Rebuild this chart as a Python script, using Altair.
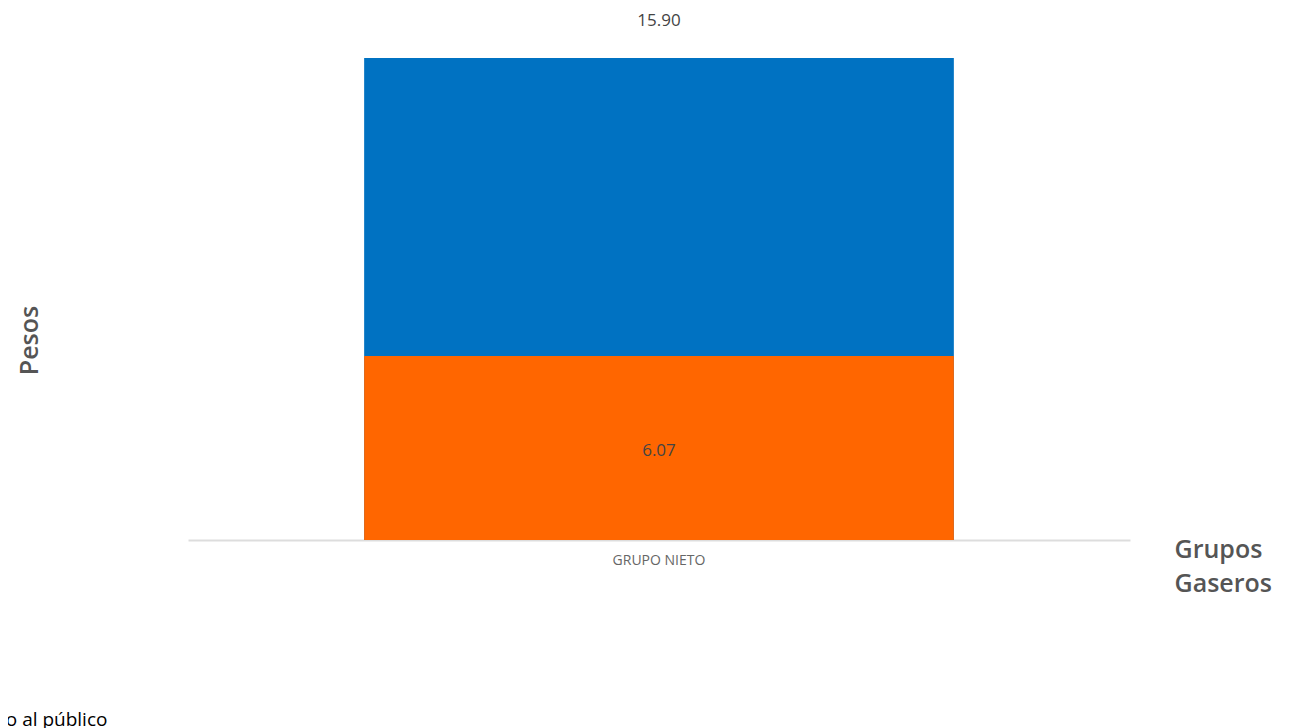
import altair as alt
import pandas as pd

# Data
grupos = ["GRUPO NIETO", "GRUPO NIETO"]
series = ["Precio al público", "Precio de venta de primera mano"]
valores = [15.90, 6.07]
etiquetas = ["15.90", "6.07"]
orden_leyenda = ["Precio de venta de primera mano", "Precio al público"]
colores = ["#ff6600", "#0072c2"]

df = pd.DataFrame({"grupo": grupos, "serie": series, "valor": valores, "etiqueta": etiquetas})

FONT = "Open Sans"

x_enc = alt.X(
    "grupo:N",
    scale=alt.Scale(paddingInner=0.23, paddingOuter=0.23),
    axis=alt.Axis(
        title=["Grupos", "Gaseros"],
        titleFont=FONT, titleFontSize=25, titleFontWeight=600, titleColor="#555555",
        titleLineHeight=34, titleAlign="left", titleBaseline="top",
        titleX=986, titleY=-3, titleAngle=0,
        labelFont=FONT, labelFontSize=14, labelColor="#666666", labelPadding=13, labelAngle=0,
        ticks=False, grid=False, domainColor="#dddddd", domainWidth=2,
    ),
)

y_scale = alt.Scale(domain=[0, 16], nice=False)

bars = alt.Chart(df).mark_bar().encode(
    x=x_enc,
    y=alt.Y(
        "valor:Q", stack=None, scale=y_scale,
        axis=alt.Axis(
            title="Pesos", labels=False, ticks=False, domain=False, grid=False,
            titleFont=FONT, titleFontSize=25, titleFontWeight=600, titleColor="#555555",
            titleX=-159, titleY=285, titleAngle=270, titleBaseline="middle", titleAlign="center",
        ),
    ),
    color=alt.Color(
        "serie:N",
        scale=alt.Scale(domain=orden_leyenda, range=colores),
        legend=alt.Legend(
            title=None, orient="none", legendX=-578, legendY=655, direction="horizontal",
            labelFont=FONT, labelFontSize=19, labelColor="#000000", symbolType="square",
            labelLimit=400,
        ),
    ),
    order=alt.Order("valor:Q", sort="descending"),
)

top_label = alt.Chart(df).transform_filter(
    alt.datum.serie == "Precio al público"
).mark_text(dy=-37, font=FONT, fontSize=17, color="#444444").encode(
    x="grupo:N", y=alt.Y("valor:Q", scale=y_scale), text="etiqueta:N"
)

inner_label = alt.Chart(df).transform_filter(
    alt.datum.serie != "Precio al público"
).transform_calculate(
    mitad="datum.valor / 2"
).mark_text(baseline="middle", dy=3, font=FONT, fontSize=17, color="#444444").encode(
    x="grupo:N", y=alt.Y("mitad:Q", scale=y_scale), text="etiqueta:N"
)

chart = alt.layer(bars, top_label, inner_label).properties(
    width=942, height=485,
    autosize=alt.AutoSizeParams(type="none"),
    padding={"left": 180, "top": 47, "right": 156, "bottom": 220},
    background="white",
).configure_view(stroke=None, strokeWidth=0)

chart.save("out.html", embed_options={"renderer": "svg", "actions": False})
